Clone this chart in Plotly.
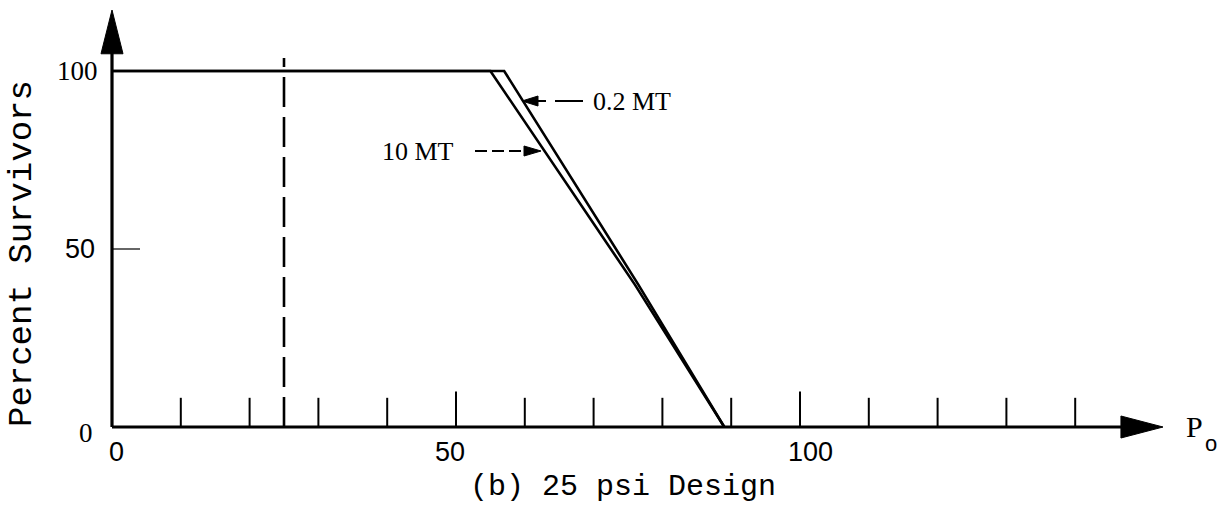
import plotly.graph_objects as go

# ---------------- data ----------------
x_10mt = [0, 55, 76, 89]
y_10mt = [100, 100, 40, 0]
x_02mt = [0, 57, 76.5, 89]
y_02mt = [100, 100, 40, 0]

minor_ticks = [10, 20, 30, 40, 60, 70, 80, 90, 110, 120, 130, 140]
major_ticks = [50, 100]
x_tick_labels = [0, 50, 100]
y_tick_labels = [100, 50, 0]
design_psi = 25

# ---------------- layout geometry (pixel mapping) ----------------
W, H = 1225, 509
X0_PX, PX_PER_X = 112, 6.88
Y0_PX, PX_PER_Y = 427, 3.56
x_range = [-X0_PX / PX_PER_X, (W - X0_PX) / PX_PER_X]
y_range = [-(H - Y0_PX) / PX_PER_Y, Y0_PX / PX_PER_Y]

def px2x(p):
    return (p - X0_PX) / PX_PER_X

def px2y(p):
    return (Y0_PX - p) / PX_PER_Y

fig = go.Figure()

# curves
fig.add_trace(go.Scatter(x=x_10mt, y=y_10mt, mode="lines",
                         line=dict(color="black", width=2.6), name="10 MT"))
fig.add_trace(go.Scatter(x=x_02mt, y=y_02mt, mode="lines",
                         line=dict(color="black", width=2.6), name="0.2 MT"))

# tick marks on x axis
tx, ty = [], []
for t in minor_ticks:
    tx += [t, t, None]
    ty += [0, 8.2, None]
for t in major_ticks:
    tx += [t, t, None]
    ty += [0, 10, None]
fig.add_trace(go.Scatter(x=tx, y=ty, mode="lines",
                         line=dict(color="black", width=2), hoverinfo="skip"))

# dashed design line
fig.add_trace(go.Scatter(x=[design_psi, design_psi], y=[0, px2y(58)], mode="lines",
                         line=dict(color="black", width=2.6, dash="30px,10px"),
                         hoverinfo="skip"))

# y tick at 50
fig.add_trace(go.Scatter(x=[0, px2x(140)], y=[50, 50], mode="lines",
                         line=dict(color="#333", width=1.5), hoverinfo="skip"))

# axes lines
x_arrow_base, x_arrow_tip = px2x(1123), px2x(1163)
y_arrow_base, y_arrow_tip = px2y(52), px2y(10)
fig.add_trace(go.Scatter(x=[0, x_arrow_base], y=[0, 0], mode="lines",
                         line=dict(color="black", width=3.2), hoverinfo="skip"))
fig.add_trace(go.Scatter(x=[0, 0], y=[0, y_arrow_base], mode="lines",
                         line=dict(color="black", width=3.2), hoverinfo="skip"))

hh = 11 / PX_PER_Y
hw = 11 / PX_PER_X
fig.add_shape(type="path",
              path=f"M {x_arrow_base-0.3},{-hh} L {x_arrow_tip},0 L {x_arrow_base-0.3},{hh} Z",
              fillcolor="black", line=dict(color="black", width=1))
fig.add_shape(type="path",
              path=f"M {-hw},{y_arrow_base-0.5} L 0,{y_arrow_tip} L {hw},{y_arrow_base-0.5} Z",
              fillcolor="black", line=dict(color="black", width=1))

def pointer_head(tip_px, base_px, y_px):
    yc = px2y(y_px)
    h = 5 / PX_PER_Y
    fig.add_shape(type="path",
                  path=(f"M {px2x(base_px)},{yc-h} L {px2x(tip_px)},{yc} "
                        f"L {px2x(base_px)},{yc+h} Z"),
                  fillcolor="black", line=dict(color="black", width=1))

# pointer for 0.2 MT
fig.add_trace(go.Scatter(x=[px2x(536), px2x(546)], y=[px2y(101), px2y(101)],
                         mode="lines", line=dict(color="black", width=2),
                         hoverinfo="skip"))
pointer_head(522, 538, 101)
fig.add_trace(go.Scatter(x=[px2x(555), px2x(583)], y=[px2y(101), px2y(101)],
                         mode="lines", line=dict(color="black", width=2),
                         hoverinfo="skip"))
fig.add_annotation(x=px2x(591), y=px2y(101), xref="x", yref="y", text="0.2 MT",
                   showarrow=False, xanchor="left", yanchor="middle",
                   font=dict(family="Liberation Serif", size=26, color="black"))

# pointer for 10 MT
fig.add_trace(go.Scatter(x=[px2x(475), px2x(526)], y=[px2y(151), px2y(151)],
                         mode="lines", line=dict(color="black", width=2, dash="12px,5px"),
                         hoverinfo="skip"))
pointer_head(541, 524, 151)
fig.add_annotation(x=px2x(456), y=px2y(151), xref="x", yref="y", text="10 MT",
                   showarrow=False, xanchor="right", yanchor="middle",
                   font=dict(family="Liberation Serif", size=26, color="black"))

# y tick labels
y_label_fonts = {100: "Liberation Serif", 50: "Liberation Sans", 0: "Liberation Serif"}
y_label_shift = {100: (-12, 0), 50: (-15, 0), 0: (-17, -6)}
for v in y_tick_labels:
    dx, dy = y_label_shift[v]
    fig.add_annotation(x=0, y=v, xref="x", yref="y", text=str(v), showarrow=False,
                       xanchor="right", yanchor="middle", xshift=dx, yshift=dy,
                       font=dict(family=y_label_fonts[v], size=27, color="black"))

# x tick labels
x_label_shift = {0: 4, 50: -6, 100: 10}
for v in x_tick_labels:
    fig.add_annotation(x=v, y=0, xref="x", yref="y", text=str(v), showarrow=False,
                       xanchor="center", yanchor="middle", xshift=x_label_shift[v],
                       yshift=-25,
                       font=dict(family="Liberation Sans", size=27, color="black"))

# axis titles
fig.add_annotation(x=22 / W, y=1 - 254 / H, xref="paper", yref="paper",
                   text="Percent Survivors", textangle=-90, showarrow=False,
                   xanchor="center", yanchor="middle",
                   font=dict(family="Liberation Mono", size=34, color="black"))
fig.add_annotation(x=1184 / W, y=1 - 426 / H, xref="paper", yref="paper",
                   text="P", showarrow=False,
                   xanchor="left", yanchor="middle",
                   font=dict(family="Liberation Serif", size=30, color="black"))
fig.add_annotation(x=1203 / W, y=1 - 443 / H, xref="paper", yref="paper",
                   text="o", showarrow=False,
                   xanchor="left", yanchor="middle",
                   font=dict(family="Liberation Sans", size=22, color="black"))

# caption
fig.add_annotation(x=623 / W, y=1 - 487 / H, xref="paper", yref="paper",
                   text="(b) 25 psi Design", showarrow=False,
                   xanchor="center", yanchor="middle",
                   font=dict(family="Liberation Mono", size=30, color="black"))

fig.update_layout(
    width=W, height=H,
    margin=dict(l=0, r=0, t=0, b=0),
    paper_bgcolor="white", plot_bgcolor="white",
    showlegend=False,
    xaxis=dict(range=x_range, visible=False, fixedrange=True),
    yaxis=dict(range=y_range, visible=False, fixedrange=True),
)

fig.write_html("out.html")
